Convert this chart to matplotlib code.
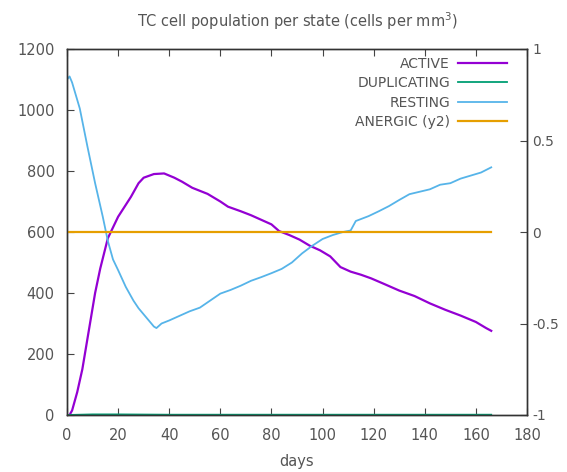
import matplotlib
matplotlib.use("Agg")
import matplotlib.pyplot as plt

plt.rcParams['font.family'] = ['DejaVu Sans']

title = "TC cell population per state (cells per mm$^3$)"
xlabel = "days"

active_days = [1, 2, 4, 6, 8, 11, 13, 16, 20, 25, 28, 30, 34, 38, 42, 45, 49, 55, 60, 63,
               68, 72, 76, 80, 83, 87, 91, 95, 99, 103, 107, 111, 115, 119, 124, 130, 136,
               142, 148, 154, 160, 164, 166]
active_vals = [0, 15, 75, 150, 250, 400, 480, 580, 650, 715, 760, 778, 790, 792, 778, 765,
               745, 725, 700, 683, 668, 655, 640, 625, 603, 590, 575, 555, 540, 520, 485,
               470, 460, 448, 430, 408, 390, 366, 345, 326, 305, 285, 276]

resting_days = [0, 1, 2, 5, 8, 11, 14, 16, 18, 20, 23, 26, 28, 31, 34, 35, 37, 40, 44, 48,
                52, 56, 60, 64, 68, 72, 76, 80, 84, 88, 92, 96, 100, 104, 108, 111, 113, 118,
                122, 126, 130, 134, 138, 142, 146, 150, 154, 158, 162, 166]
resting_vals = [1100, 1110, 1090, 1005, 880, 760, 650, 570, 510, 475, 420, 375, 350, 320,
                290, 285, 300, 310, 325, 340, 352, 375, 398, 410, 424, 440, 452, 465, 479,
                500, 530, 555, 577, 590, 600, 605, 636, 652, 668, 685, 705, 724, 732, 740,
                755, 760, 775, 785, 795, 812]

dup_days = [0, 10, 20, 40, 60, 80, 100, 120, 140, 166]
dup_vals = [0, 2, 2, 1, 1, 1, 1, 1, 1, 1]

anergic_days = [0, 166]
anergic_vals = [0, 0]

xticks = [0, 20, 40, 60, 80, 100, 120, 140, 160, 180]
yticks = [0, 200, 400, 600, 800, 1000, 1200]
y2ticks = [-1, -0.5, 0, 0.5, 1]
y2labels = ["-1", "-0.5", "0", "0.5", "1"]

c_active = "#9400d3"
c_dup = "#009e73"
c_rest = "#56b4e9"
c_anerg = "#e69f00"
txt = "#555555"

fig = plt.figure(figsize=(5.67, 4.72), dpi=100)
ax = fig.add_axes([67/567, 1 - 415/472, 460/567, 366/472])
ax2 = ax.twinx()

l1, = ax.plot(active_days, active_vals, color=c_active, lw=1.6, label="ACTIVE")
l2, = ax.plot(dup_days, dup_vals, color=c_dup, lw=1.3, label="DUPLICATING")
l3, = ax.plot(resting_days, resting_vals, color=c_rest, lw=1.3, label="RESTING")
l4, = ax2.plot(anergic_days, anergic_vals, color=c_anerg, lw=1.6, label="ANERGIC (y2)")

ax.set_xlim(0, 180)
ax.set_ylim(0, 1200)
ax2.set_ylim(-1, 1)
ax.set_xticks(xticks)
ax.set_yticks(yticks)
ax2.set_yticks(y2ticks)
ax2.set_yticklabels(y2labels)

fs = 10.5
tc = "#444444"
ax.tick_params(axis='x', direction='in', top=True, length=5, labelsize=fs, labelcolor=txt, color=tc, pad=9)
ax.tick_params(axis='y', direction='in', right=False, length=5, labelsize=fs, labelcolor=txt, color=tc, pad=9)
ax2.tick_params(axis='y', direction='in', length=5, labelsize=10, labelcolor=txt, color=tc, pad=4)
for a in (ax, ax2):
    for s in a.spines.values():
        s.set_color("#333")
        s.set_linewidth(1.0)

ax.set_title(title, fontsize=fs, color=txt, pad=16)
ax.set_xlabel(xlabel, fontsize=fs, color=txt, labelpad=8)

leg = ax.legend(handles=[l1, l2, l3, l4], loc="upper right", frameon=False,
                markerfirst=False, fontsize=10, handlelength=3.5, handletextpad=0.6,
                labelspacing=0.38, borderaxespad=0.0, borderpad=0.0,
                bbox_to_anchor=(1 - 20/460, 1 - 8/366))
for t in leg.get_texts():
    t.set_color(txt)
leg.set_zorder(5)

fig.savefig("out.png", dpi=100)
